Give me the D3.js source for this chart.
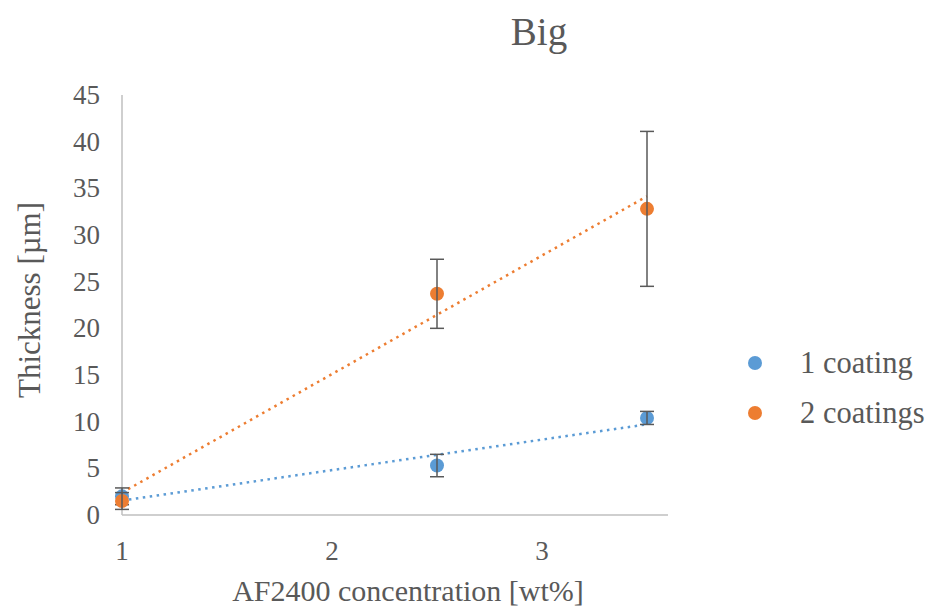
<!DOCTYPE html>
<html>
<head>
<meta charset="utf-8">
<script src="https://d3js.org/d3.v7.min.js"></script>
<style>
  body { margin: 0; background: #fff; }
  text { font-family: "Liberation Serif", "Times New Roman", serif; fill: #595959; }
</style>
</head>
<body>
<svg id="chart" width="931" height="608"></svg>
<script>
// data
const xVals = [1, 2.5, 3.5];
const oneCoating = [2.0, 5.3, 10.4];
const oneCoatingErr = [0.9, 1.2, 0.7];
const twoCoatings = [1.5, 23.7, 32.8];
const twoCoatingsErr = [0.9, 3.7, 8.3];
const xTicks = [1, 2, 3];
const yTicks = [0, 5, 10, 15, 20, 25, 30, 35, 40, 45];
const seriesNames = ["1 coating", "2 coatings"];
const colors = ["#5B9BD5", "#ED7D31"];

const svg = d3.select("#chart");
const x = d3.scaleLinear().domain([1, 3.6]).range([122, 668]);
const y = d3.scaleLinear().domain([0, 45]).range([515, 95]);

// linear trendline (least squares), like Excel
function fit(xs, ys) {
  const mx = d3.mean(xs), my = d3.mean(ys);
  let sxy = 0, sxx = 0;
  xs.forEach((v, i) => { sxy += (v - mx) * (ys[i] - my); sxx += (v - mx) * (v - mx); });
  const b = sxy / sxx;
  return t => my + b * (t - mx);
}

// axes
svg.append("line").attr("x1", x(1)).attr("x2", x(1)).attr("y1", y(45)).attr("y2", y(0))
  .attr("stroke", "#bfbfbf").attr("stroke-width", 1.5);
svg.append("line").attr("x1", x(1)).attr("x2", x(3.6)).attr("y1", y(0)).attr("y2", y(0))
  .attr("stroke", "#bfbfbf").attr("stroke-width", 1.5);

svg.selectAll(".ytick").data(yTicks).enter().append("text")
  .attr("x", 100).attr("y", d => y(d) + 9)
  .attr("text-anchor", "end").attr("font-size", 27).text(d => d);
svg.selectAll(".xtick").data(xTicks).enter().append("text")
  .attr("x", d => x(d)).attr("y", 560)
  .attr("text-anchor", "middle").attr("font-size", 27).text(d => d);

// titles
svg.append("text").attr("x", 539).attr("y", 45).attr("text-anchor", "middle")
  .attr("font-size", 39).text("Big");
svg.append("text").attr("x", 408).attr("y", 601).attr("text-anchor", "middle")
  .attr("font-size", 30).text("AF2400 concentration [wt%]");
svg.append("text").attr("transform", "translate(40,300) rotate(-90)")
  .attr("text-anchor", "middle").attr("font-size", 31).text("Thickness [µm]");

const series = [
  { vals: oneCoating, err: oneCoatingErr },
  { vals: twoCoatings, err: twoCoatingsErr }
];

// trendlines
series.forEach((s, i) => {
  const f = fit(xVals, s.vals);
  svg.append("line")
    .attr("x1", x(1)).attr("y1", y(f(1)))
    .attr("x2", x(3.5)).attr("y2", y(f(3.5)))
    .attr("stroke", colors[i]).attr("stroke-width", 2.5)
    .attr("stroke-dasharray", "2.5,4.5");
});

// markers and error bars
series.forEach((s, i) => {
  const g = svg.append("g");
  g.selectAll("circle").data(s.vals).enter().append("circle")
    .attr("cx", (d, j) => x(xVals[j])).attr("cy", d => y(d))
    .attr("r", 7).attr("fill", colors[i]);
  s.vals.forEach((v, j) => {
    const cx = x(xVals[j]), top = y(v + s.err[j]), bot = y(v - s.err[j]);
    g.append("line").attr("x1", cx).attr("x2", cx).attr("y1", top).attr("y2", bot)
      .attr("stroke", "#595959").attr("stroke-width", 1.5);
    [top, bot].forEach(yy => g.append("line")
      .attr("x1", cx - 7).attr("x2", cx + 7).attr("y1", yy).attr("y2", yy)
      .attr("stroke", "#595959").attr("stroke-width", 1.5));
  });
});

// legend
seriesNames.forEach((n, i) => {
  const ly = 363 + i * 50;
  svg.append("circle").attr("cx", 755).attr("cy", ly).attr("r", 7).attr("fill", colors[i]);
  svg.append("text").attr("x", 800).attr("y", ly + 10).attr("font-size", 30.5).text(n);
});
</script>
</body>
</html>
